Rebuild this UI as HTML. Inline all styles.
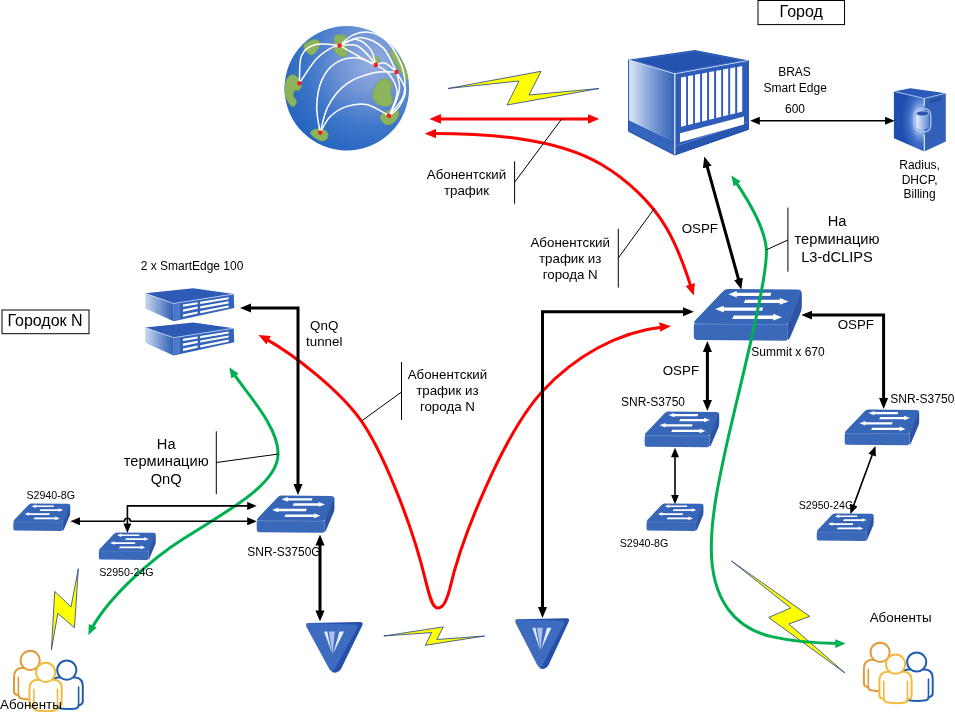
<!DOCTYPE html>
<html>
<head>
<meta charset="utf-8">
<title>Network diagram</title>
<style>
html,body{margin:0;padding:0;background:#fff;}
body{width:955px;height:712px;overflow:hidden;font-family:"Liberation Sans",sans-serif;}
svg{display:block;}
text{font-family:"Liberation Sans",sans-serif;fill:#000;}
.s8{font-size:10.67px;}
.s9{font-size:12px;}
.s10{font-size:13.33px;}
.s11{font-size:14.67px;}
.s12{font-size:16px;}
.mid{text-anchor:middle;}
</style>
</head>
<body>
<svg width="955" height="712" viewBox="0 0 955 712">
<defs>
  <!-- gradients -->
  <radialGradient id="gGlobe" cx="0.70" cy="0.30" r="0.80">
    <stop offset="0" stop-color="#98b0e0"/>
    <stop offset="0.3" stop-color="#7396d6"/>
    <stop offset="0.65" stop-color="#3d76c9"/>
    <stop offset="1" stop-color="#2263be"/>
  </radialGradient>
  <linearGradient id="gSide" x1="0" y1="0" x2="1" y2="0">
    <stop offset="0" stop-color="#dfe8f6"/>
    <stop offset="0.5" stop-color="#7f9fd6"/>
    <stop offset="1" stop-color="#2f5fb6"/>
  </linearGradient>
  <linearGradient id="gSrvSide" x1="0" y1="0" x2="1" y2="0">
    <stop offset="0" stop-color="#c9d8f0"/>
    <stop offset="1" stop-color="#2d5cb3"/>
  </linearGradient>
  <radialGradient id="gDb" cx="0.88" cy="0.48" r="0.62">
    <stop offset="0" stop-color="#e2ecfd"/>
    <stop offset="0.28" stop-color="#9dbaee"/>
    <stop offset="0.62" stop-color="#3d6dc6"/>
    <stop offset="1" stop-color="#1f4fae"/>
  </radialGradient>
  <linearGradient id="gCyl" x1="0" y1="0" x2="1" y2="0">
    <stop offset="0" stop-color="#e8f0ff"/>
    <stop offset="1" stop-color="#5b86d4"/>
  </linearGradient>

  <!-- switch symbol: 110 x 54 box -->
  <g id="sw">
    <path d="M3,36 L95,36.5 L95,50 Q95,52.5 92,52.5 L5,52 Q1,52 1,48 L1,39 Q1,36 3,36 Z" fill="#3b69ba"/>
    <path d="M95,36.5 L107,6 Q109,3 109,8 L109,19 Q109,23 107.5,26 L97,50 Q95,53.5 95,50 Z" fill="#2b54a4"/>
    <path d="M35,2.7 L104.5,3.2 Q110,3.2 107.5,8 L97,33.5 Q95.5,36.8 91,36.8 L4,36.3 Q-1,36.3 3,32.3 L29.5,5.5 Q32,2.7 35,2.7 Z" fill="#3766b8"/>
    <path d="M2,36.6 L94,37" stroke="#5d86cc" stroke-width="0.9" fill="none"/>
    <!-- arrows on top -->
    <g fill="#fff">
      <path d="M35.5,7.7 L44,4.6 L44,6.2 L78.5,6.2 L77.5,9.3 L44,9.3 L44,10.8 Z"/>
      <path d="M95.7,14.6 L87,11.4 L87,13 L52.5,13 L51,16.2 L87,16.2 L87,17.8 Z"/>
      <path d="M22.4,22 L31,18.8 L31,20.4 L70.5,20.4 L69.3,23.6 L31,23.6 L31,25.2 Z"/>
      <path d="M89.2,29.8 L80.5,26.5 L80.5,28.1 L41,28.1 L39.4,31.5 L80.5,31.5 L80.5,33.1 Z"/>
    </g>
  </g>

  <!-- triangle symbol: 56 x 52 -->
  <g id="tri">
    <path d="M3,2 L55,1 Q59,1 57,5 L36,48 Q31.5,53.5 27,51 Z" fill="#254fa8"/>
    <path d="M3,2 L50,3.5 Q53.5,4 52,7.5 L30,47.5 Q27,52.5 24,47.5 L1.5,6 Q0,2 3,2 Z" fill="#3c6bbf"/>
    <path d="M19,10.4 L22.2,10.4 L27.1,32.4 Z" fill="#e4ecfb"/>
    <path d="M23.7,10.4 L29.9,10.4 L27.6,32.9 Z" fill="#a9c2ee"/>
    <path d="M34.4,10.4 L39.1,10.4 L28.2,32.4 Z" fill="#e4ecfb"/>
  </g>

  <g id="person">
    <path d="M-9,7.5 Q-16.2,8.5 -16.2,16.5 L-16.2,31 Q-16.2,33.8 -13.5,34.4 L-11.8,34.8 Q-11.6,37.4 -9,38 Q0,39.8 9,38.3 Q11.8,37.8 11.8,35.2 L13.6,34.7 Q16,34 16,31 L16,16.5 Q16,8.5 9,7.5 Z"/>
    <path d="M-11.8,34.8 L-11.8,17 M11.8,35.2 L11.8,17" fill="none" stroke-width="1.6"/>
    <circle cx="0" cy="0" r="9.6"/>
  </g>
  <!-- arrowheads -->
  <marker id="aR" viewBox="0 0 12 10" markerWidth="11.5" markerHeight="10" refX="11" refY="5" orient="auto-start-reverse" markerUnits="userSpaceOnUse">
    <path d="M0,0 L12,5 L0,10 Z" fill="#ff0000"/>
  </marker>
  <marker id="aK" viewBox="0 0 12 10" markerWidth="11" markerHeight="10" refX="11" refY="5" orient="auto-start-reverse" markerUnits="userSpaceOnUse">
    <path d="M0,0 L12,5 L0,10 Z" fill="#000"/>
  </marker>
  <marker id="aKs" viewBox="0 0 12 10" markerWidth="10" markerHeight="8" refX="11" refY="5" orient="auto-start-reverse" markerUnits="userSpaceOnUse">
    <path d="M0,0 L12,5 L0,10 Z" fill="#000"/>
  </marker>
  <marker id="aG" viewBox="0 0 12 10" markerWidth="10.5" markerHeight="10" refX="11" refY="5" orient="auto-start-reverse" markerUnits="userSpaceOnUse">
    <path d="M0,0 L12,5 L0,10 Z" fill="#00b050"/>
  </marker>
</defs>

<rect x="0" y="0" width="955" height="712" fill="#ffffff"/>

<!--ICONS-->
<!-- Globe -->
<g id="globe">
  <circle cx="346.8" cy="88.3" r="62.3" fill="url(#gGlobe)"/>
  <clipPath id="cg"><circle cx="346.8" cy="88.3" r="62.3"/></clipPath>
  <g clip-path="url(#cg)" fill="#8bb45c" stroke="#7aa654" stroke-width="0.8" stroke-linejoin="round">
    <path d="M304.6,49.6 Q301.5,45.5 307.6,42.0 Q313.7,38.4 317.2,40.0 Q320.8,41.5 319.8,44.5 Q318.8,47.6 316.2,51.7 Q313.7,55.7 310.6,54.7 Q307.6,53.7 304.6,49.6 Z"/>
    <path d="M334.5,38.5 Q334.0,35.4 338.1,34.8 Q342.2,34.3 344.8,35.8 Q347.3,37.4 346.2,40.5 Q345.2,43.5 346.8,46.5 Q348.3,49.6 347.2,53.7 Q346.2,57.7 342.1,56.7 Q338.1,55.7 335.6,52.7 Q333.0,49.6 334.0,45.5 Q335.0,41.5 334.5,38.5 Z"/>
    <path d="M285.1,84.2 Q287.2,76.1 291.3,75.0 Q295.4,74.0 298.9,79.1 Q302.5,84.2 300.9,87.8 Q299.4,91.3 296.9,90.3 Q294.3,89.3 293.3,92.8 Q292.3,96.4 294.9,98.5 Q297.4,100.5 295.9,104.0 Q294.3,107.6 291.8,106.1 Q289.2,104.6 286.1,98.4 Q283.0,92.3 285.1,84.2 Z"/>
    <path d="M375.8,85.2 Q376.8,82.2 381.4,79.7 Q385.9,77.1 389.5,80.7 Q393.1,84.2 391.1,88.2 Q389.0,92.3 391.6,96.4 Q394.1,100.5 391.1,104.0 Q388.0,107.6 382.4,106.1 Q376.8,104.6 374.2,100.5 Q371.7,96.4 373.2,92.3 Q374.7,88.3 375.8,85.2 Z"/>
    <path d="M381.9,121.3 Q378.8,116.8 382.4,113.8 Q385.9,110.7 391.5,109.7 Q397.1,108.6 398.6,111.7 Q400.2,114.7 396.6,119.3 Q393.1,123.9 389.0,124.9 Q384.9,125.9 381.9,121.3 Z"/>
    <path d="M311.6,135.1 Q308.6,132.0 313.1,130.0 Q317.7,128.0 322.8,129.5 Q327.9,131.0 328.1,134.6 Q328.3,138.1 325.6,140.1 Q322.8,142.2 318.8,140.1 Q314.7,138.1 311.6,135.1 Z"/>
    <path d="M391.0,53.2 Q390.0,47.6 393.6,50.2 Q397.1,52.7 401.2,59.3 Q405.3,65.9 407.4,74.0 Q409.5,82.0 406.4,79.0 Q403.2,76.1 400.1,71.0 Q397.1,65.9 394.6,62.4 Q392.0,58.8 391.0,53.2 Z"/>
    <path d="M374.8,60.8 Q373.7,55.7 376.2,56.2 Q378.8,56.7 379.8,59.8 Q380.8,62.8 378.3,64.3 Q375.8,65.9 374.8,60.8 Z"/>
  </g>
  <g fill="none" stroke="#ffffff" stroke-width="1.5" stroke-linecap="round">
    <path d="M299.4,83.2 C299.8,78.6 298.8,62.2 301.5,55.7 C304.2,49.2 309.3,46.2 315.7,44.5 C322.1,42.8 335.7,45.3 339.7,45.5"/>
    <path d="M299.4,83.2 C302.1,79.3 310.6,65.6 315.7,59.8 C320.8,54.0 326.0,51.0 330.0,48.6 C334.0,46.2 338.1,46.0 339.7,45.5"/>
    <path d="M339.7,45.5 C342.5,44.5 351.2,38.7 356.4,39.4 C361.6,40.1 367.5,45.4 370.7,49.6 C373.9,53.9 374.9,62.4 375.8,64.9"/>
    <path d="M339.7,45.5 C342.5,45.5 351.6,43.8 356.4,45.5 C361.2,47.2 365.4,52.5 368.6,55.7 C371.8,58.9 374.6,63.4 375.8,64.9"/>
    <path d="M339.7,45.5 C341.8,46.7 347.8,50.2 352.3,52.7 C356.8,55.2 362.7,58.8 366.6,60.8 C370.5,62.8 374.3,64.2 375.8,64.9"/>
    <path d="M339.7,45.5 C341.8,43.8 347.5,37.6 352.3,35.4 C357.1,33.2 363.2,31.6 368.6,32.3 C374.0,33.0 380.1,35.5 384.9,39.4 C389.6,43.3 393.9,49.6 397.1,55.7 C400.3,61.8 403.3,69.3 404.3,76.1 C405.3,82.9 405.8,89.8 403.2,96.4 C400.6,103.0 391.4,112.6 389.0,115.8"/>
    <path d="M339.7,45.5 C343.2,44.1 353.3,37.0 360.5,37.4 C367.7,37.8 376.9,41.8 382.9,47.6 C388.9,53.4 394.2,67.9 396.5,72.0"/>
    <path d="M375.8,64.9 C377.3,64.6 381.6,61.8 385.0,63.0 C388.4,64.2 394.6,70.5 396.5,72.0"/>
    <path d="M375.8,64.9 C378.0,66.4 385.4,69.4 389.0,74.0 C392.6,78.6 397.1,85.3 397.1,92.3 C397.1,99.3 390.4,111.9 389.0,115.8"/>
    <path d="M396.5,72.0 C398.0,75.0 404.9,84.5 405.3,90.3 C405.8,96.1 401.9,102.3 399.2,106.6 C396.5,110.8 390.7,114.3 389.0,115.8"/>
    <path d="M396.5,72.0 C397.0,74.7 399.8,82.7 399.5,88.0 C399.2,93.3 396.8,99.4 395.0,104.0 C393.2,108.6 390.0,113.8 389.0,115.8"/>
    <path d="M320.2,132.6 C319.6,128.3 316.4,115.3 316.7,106.6 C317.0,97.8 318.6,87.4 321.8,80.1 C325.0,72.8 330.2,66.5 336.0,62.8 C341.8,59.1 349.8,57.4 356.4,57.7 C363.0,58.1 372.6,63.7 375.8,64.9"/>
    <path d="M320.2,132.6 C321.5,128.3 323.6,114.7 327.9,106.6 C332.2,98.5 338.7,89.8 346.2,84.2 C353.7,78.6 364.3,75.0 372.7,73.0 C381.1,71.0 392.5,72.2 396.5,72.0"/>
    <path d="M320.2,132.6 C321.8,130.0 325.7,121.1 330.0,116.8 C334.3,112.5 340.1,108.6 346.2,106.6 C352.3,104.6 359.5,103.1 366.6,104.6 C373.7,106.1 385.3,113.9 389.0,115.8"/>
  </g>
  <g fill="#ee2222">
    <circle cx="339.7" cy="45.5" r="2.3"/>
    <circle cx="375.8" cy="64.9" r="2.3"/>
    <circle cx="396.5" cy="72.0" r="2.3"/>
    <circle cx="299.4" cy="83.2" r="2.3"/>
    <circle cx="389.0" cy="115.8" r="2.3"/>
    <circle cx="320.2" cy="132.6" r="2.3"/>
  </g>
</g>

<!-- BRAS chassis -->
<g id="bras">
  <!-- top -->
  <path d="M628.2,59.7 L694.8,50 L748.7,60.4 L674.8,73.8 Z" fill="#2353ae"/>
  <path d="M634,60.2 L694.5,51.6 L742,60.6 L675,72.4 Z" fill="none" stroke="#3f6fc4" stroke-width="0.7"/>
  <!-- left face -->
  <path d="M628.2,59.7 L674.8,73.8 L674.8,155 L628.2,131.3 Z" fill="url(#gSide)"/>
  <path d="M628.2,120.5 L674.8,143.5 L674.8,155 L628.2,131.3 Z" fill="#3565bd"/>
  <path d="M628.2,120.5 L674.8,143.5" stroke="#2453ae" stroke-width="0.8" fill="none"/>
  <!-- front face -->
  <path d="M674.8,73.8 L748.7,60.4 L748.7,129.4 L674.8,155 Z" fill="#2d5db8"/>
  <path d="M674.8,146.8 L748.7,122 L748.7,129.4 L674.8,155 Z" fill="#2756b0"/>
  <path d="M675.5,146.4 L748.7,121.8" stroke="#5a86d4" stroke-width="0.8" fill="none"/>
  <path d="M674.8,73.8 L674.8,155" stroke="#e8f0ff" stroke-width="1.2"/>
  <path d="M628.2,59.7 L674.8,73.8 L748.7,60.4" fill="none" stroke="#dbe6fa" stroke-width="0.8"/>
  <path d="M628.6,59.7 L628.6,131.3 L674.8,155 L748.3,129.4 L748.3,60.4" fill="none" stroke="#2252ad" stroke-width="1"/>
  <!-- slots -->
  <g fill="#ffffff"><path d="M681.0,77.4 L686.1,76.5 L686.1,125.5 L681.0,126.7 Z"/><path d="M688.0,76.1 L693.1,75.2 L693.1,123.7 L688.0,125.0 Z"/><path d="M695.0,74.8 L700.1,73.8 L700.1,122.0 L695.0,123.3 Z"/><path d="M702.1,73.5 L707.1,72.5 L707.1,120.3 L702.1,121.5 Z"/><path d="M709.1,72.1 L714.1,71.2 L714.1,118.6 L709.1,119.8 Z"/><path d="M716.1,70.8 L721.2,69.9 L721.2,116.8 L716.1,118.1 Z"/><path d="M723.1,69.5 L728.2,68.6 L728.2,115.1 L723.1,116.3 Z"/><path d="M730.2,68.2 L735.2,67.2 L735.2,113.4 L730.2,114.6 Z"/><path d="M737.2,66.9 L742.2,65.9 L742.2,111.6 L737.2,112.9 Z"/></g>
  <!-- strip -->
  <path d="M680,133.3 L744,116.6 L744,124.6 L680,142.2 Z" fill="#ffffff"/>
</g>

<!-- DB server -->
<g id="db">
  <path d="M893.9,91.4 L910.4,88.3 L945.8,93.3 L924.3,98.4 Z" fill="#2a5ab8"/>
  <path d="M893.9,91.4 L924.3,98.4 L924.3,151.5 L893.9,138.3 Z" fill="url(#gDb)"/>
  <path d="M924.3,98.4 L945.8,93.3 L945.8,141.4 L924.3,151.5 Z" fill="#3060b8"/>
  <path d="M924.3,98.4 L924.3,106 M924.3,134 L924.3,151.5" stroke="#dce8fc" stroke-width="1.2"/>
  <path d="M893.9,91.4 L924.3,98.4 L945.8,93.3" fill="none" stroke="#b8cdf2" stroke-width="0.8"/>
  <path d="M930,99.5 L942,96.8 L942,100.3 L930,103 Z" fill="#26509f"/>
  <rect x="914.3" y="108.5" width="16.4" height="23.5" rx="6.5" fill="none" stroke="#aac4f2" stroke-width="1.6" opacity="0.9"/>
  <path d="M916.3,113.5 L916.3,127 A6.3,2.6 0 0 0 928.9,127 L928.9,113.5 Z" fill="url(#gCyl)"/>
  <ellipse cx="922.6" cy="113.5" rx="6.3" ry="2.6" fill="#2c55a8" stroke="#c8d9f8" stroke-width="0.7"/>
</g>

<!-- rack servers -->
<g id="srv1">
  <path d="M145.2,293.3 L193.2,288.3 L233.7,294 L173.6,303.5 Z" fill="#2c5ab4"/>
  <path d="M145.2,293.3 L173.6,303.5 L173.6,321.2 L145.2,308.5 Z" fill="url(#gSrvSide)"/>
  <path d="M173.6,303.5 L233.7,294 L234.3,308 L173.6,321.2 Z" fill="#3463bb"/>
  <path d="M145.2,293.3 L173.6,303.5 L233.7,294" fill="none" stroke="#c5d6f4" stroke-width="0.8"/>
  <path d="M174.5,304.5 L180,303.6 L180,319 L174.5,320.4 Z" fill="#4f7acb"/>
  <g fill="#ffffff">
    <path d="M183,304.6 L197.6,302.2 L197.6,304.2 L183,306.8 Z"/>
    <path d="M183,309.4 L197.6,306.6 L197.6,308.8 L183,311.8 Z"/>
    <path d="M183,314.4 L197.6,311.4 L197.6,313.6 L183,316.8 Z"/>
    <path d="M200.2,301.8 L228.6,297.2 L228.6,299.2 L200.2,304 Z"/>
    <path d="M200.2,306.2 L228.6,301.2 L228.6,303.4 L200.2,308.4 Z"/>
    <path d="M200.2,311 L228.6,305.4 L228.6,307.6 L200.2,313.2 Z"/>
  </g>
</g>
<use href="#srv1" transform="translate(0,34.2)"/>

<!-- switches -->
<use href="#sw" transform="translate(692.8,286.3) scale(1,1.035)"/>
<use href="#sw" transform="translate(644,409.6) scale(0.69,0.715)"/>
<use href="#sw" transform="translate(844,407.6) scale(0.69,0.715)"/>
<use href="#sw" transform="translate(646,502) scale(0.527,0.55)"/>
<use href="#sw" transform="translate(816.2,512) scale(0.527,0.55)"/>
<use href="#sw" transform="translate(12.8,502) scale(0.527,0.55)"/>
<use href="#sw" transform="translate(98.3,531) scale(0.527,0.55)"/>
<use href="#sw" transform="translate(256,493.6) scale(0.72,0.745)"/>

<!-- triangles -->
<use href="#tri" transform="translate(305,621)"/>
<use href="#tri" transform="translate(514.3,617.3) scale(0.95,1)"/>

<!--/ICONS-->
<!--LINES-->
<!-- lightning bolts -->
<g fill="#ffff00" stroke="#1f3f8a" stroke-width="0.8" stroke-linejoin="miter">
  <path d="M448,88.5 L541,71.3 L529,95 L599,88.5 L507,105 L519,81 Z"/>
  <path d="M78.3,568.7 L71,606.8 L54.7,591.4 L51.4,649.8 L57.8,613.4 L74.5,627.8 Z"/>
  <path d="M383.8,636 L443.3,626.9 L436.8,639.5 L484.5,636 L425.3,645.3 L431.7,632.6 Z"/>
  <path d="M731.5,561 L809.8,616.4 L788.8,624 L844.9,672.9 L768.6,617.5 L790.7,608 Z"/>
</g>

<!-- people icons -->
<g id="ppl" fill="#ffffff" stroke-width="2" stroke-linejoin="round" stroke-linecap="round">
  <g stroke="#e29a3c" transform="translate(880.1,652.3)"><use href="#person"/></g>
  <g stroke="#1f5fae" transform="translate(916.7,662)"><use href="#person"/></g>
  <g stroke="#f0bb3c" transform="translate(895.6,664.2)"><use href="#person"/></g>
</g>
<use href="#ppl" transform="translate(-849.9,8.1)"/>

<!-- red arrows -->
<g fill="none" stroke="#ff0000" stroke-width="3">
  <path d="M430.4,118.9 L598.5,118.9" stroke-dasharray="0 6.0 156.1 11.0" marker-start="url(#aR)" marker-end="url(#aR)"/>
  <path d="M425.7,133.6 C485,133.6 553.6,136.4 601.1,164.2 C627,179.4 651.9,202.7 666.9,228.7 C678.4,248.6 686.6,272.5 693.4,294.5" stroke-dasharray="0 6.0 332.2 11.0" marker-start="url(#aR)" marker-end="url(#aR)"/>
  <path d="M259.3,335.4 C292,352 340,391 360.4,419.7 C381,448.5 411,520 425.5,580.1 C429,594 432,608 437.5,608 C443,608 446,602 449.5,589.8 C462,535 505,432 542.5,391.3 C575,356 620,330 670.2,326.3" stroke-dasharray="0 6.0 716.6 11.0" marker-start="url(#aR)" marker-end="url(#aR)"/>
</g>

<!-- green arrows -->
<g fill="none" stroke="#00b050" stroke-width="3">
  <path d="M731.8,176.1 C747,198 766.4,228 766.4,252 C766.4,285 740,385 727.7,440 C719,479 711.3,515 711.3,548 C711.3,600 735,628 771.6,636.6 C795,642 820,643.5 844.9,643.5" stroke-dasharray="0 6.0 564.9 11.0" marker-start="url(#aG)" marker-end="url(#aG)"/>
  <path d="M229.8,368.1 C245,392 278.1,425 278.1,453.7 C278.1,485 225,512 183.4,538.8 C150,560 105,600 88.7,634.4" stroke-dasharray="0 6.0 355.0 11.0" marker-start="url(#aG)" marker-end="url(#aG)"/>
</g>

<!-- thick black arrows -->
<g fill="none" stroke="#000000" stroke-width="3" stroke-linejoin="miter">
  <path d="M704.6,157.4 L741.1,288.5" stroke-dasharray="0 6.0 124.1 11.0" marker-start="url(#aK)" marker-end="url(#aK)"/>
  <path d="M542.5,617 L542.5,311.7 L693,311.7" stroke-dasharray="0 6.0 443.8 11.0" marker-start="url(#aK)" marker-end="url(#aK)"/>
  <path d="M802.2,315.1 L883.6,315.1 L883.6,408" stroke-dasharray="0 6.0 162.3 11.0" marker-start="url(#aK)" marker-end="url(#aK)"/>
  <path d="M707.4,342 L707.4,410" stroke-dasharray="0 6.0 56.0 11.0" marker-start="url(#aK)" marker-end="url(#aK)"/>
  <path d="M241,308 L298,308 L298,494" stroke-dasharray="0 6.0 231.0 11.0" marker-start="url(#aK)" marker-end="url(#aK)"/>
  <path d="M320,535.5 L320,620.5" stroke-dasharray="0 6.0 73.0 11.0" marker-start="url(#aK)" marker-end="url(#aK)"/>
</g>

<!-- thin black arrows -->
<g fill="none" stroke="#000000" stroke-width="1.6">
  <path d="M751,120.7 L893.8,120.7" stroke-dasharray="0 4.5 133.8 9.5" marker-start="url(#aKs)" marker-end="url(#aKs)"/>
  <path d="M675,448.5 L675,503.5" stroke-dasharray="0 4.5 46.0 9.5" marker-start="url(#aKs)" marker-end="url(#aKs)"/>
  <path d="M875.2,446.8 L850.7,513.3" stroke-dasharray="0 4.5 61.9 9.5" marker-start="url(#aKs)" marker-end="url(#aKs)"/>
  <path d="M71.2,521.3 L124.4,521.3 A3,3 0 0 1 130.4,521.3 L256,521.3" stroke-dasharray="0 4.5 179.2 9.5" marker-start="url(#aKs)" marker-end="url(#aKs)"/>
  <path d="M127.4,532.2 L127.4,505.9 L256,505.9" stroke-dasharray="0 4.5 145.9 9.5" marker-start="url(#aKs)" marker-end="url(#aKs)"/>
</g>

<!-- callout lines -->
<g fill="none" stroke="#000000" stroke-width="1">
  <path d="M514.6,161.3 L514.6,203.7 M514.6,182.3 L561.7,118.9"/>
  <path d="M618.3,228.8 L618.3,287.6 M618.3,258 L654.4,208.4"/>
  <path d="M787.9,207.6 L787.9,271.7 M787.9,240 L766.4,249.8"/>
  <path d="M401.5,362 L401.5,420 M401.5,392 L361.5,421"/>
  <path d="M216.3,431.3 L216.3,494.1 M216.3,462.5 L277.9,454.1"/>
</g>

<!-- label boxes -->
<g fill="#ffffff" stroke="#000000" stroke-width="1">
  <rect x="758" y="0.5" width="86.5" height="24.1"/>
  <rect x="2" y="310" width="87" height="23.7"/>
</g>

<!--/LINES-->
<!--TEXT-->
<g style="filter:grayscale(1)">
<text x="801.2" y="17.2" class="s12 mid">Город</text>
<text x="45" y="326.2" class="s12 mid">Городок N</text>

<text x="794.5" y="75.8" class="s9 mid">BRAS</text>
<text x="795.2" y="92.2" class="s9 mid">Smart Edge</text>
<text x="795" y="113.2" class="s9 mid">600</text>

<text x="919.6" y="169.2" class="s9 mid">Radius,</text>
<text x="919.6" y="183.6" class="s9 mid">DHCP,</text>
<text x="919.6" y="198" class="s9 mid">Billing</text>

<text x="466.5" y="179.2" class="s10 mid">Абонентский</text>
<text x="466.5" y="195.2" class="s10 mid">трафик</text>

<text x="570.2" y="246.7" class="s10 mid">Абонентский</text>
<text x="570.2" y="262.7" class="s10 mid">трафик из</text>
<text x="570.2" y="278.7" class="s10 mid">города N</text>

<text x="447.4" y="378.7" class="s10 mid">Абонентский</text>
<text x="447.4" y="394.7" class="s10 mid">трафик из</text>
<text x="447.4" y="410.7" class="s10 mid">города N</text>

<text x="699.8" y="233" class="s10 mid">OSPF</text>
<text x="855.8" y="329" class="s10 mid">OSPF</text>
<text x="680.9" y="375.4" class="s10 mid">OSPF</text>

<text x="837" y="226.3" class="s11 mid">На</text>
<text x="837" y="243.9" class="s11 mid">терминацию</text>
<text x="837" y="261.5" class="s11 mid">L3-dCLIPS</text>

<text x="166.2" y="448.7" class="s11 mid">На</text>
<text x="166.2" y="466.3" class="s11 mid">терминацию</text>
<text x="166.2" y="483.9" class="s11 mid">QnQ</text>

<text x="788" y="356.2" class="s9 mid">Summit x 670</text>
<text x="653" y="406.3" class="s9 mid">SNR-S3750</text>
<text x="922.3" y="402.8" class="s9 mid">SNR-S3750</text>
<text x="644" y="547" class="s8 mid">S2940-8G</text>
<text x="826" y="508.7" class="s8 mid">S2950-24G</text>

<text x="192" y="269.9" class="s9 mid">2 x SmartEdge 100</text>
<text x="324.2" y="330.2" class="s10 mid">QnQ</text>
<text x="324.2" y="346.2" class="s10 mid">tunnel</text>

<text x="50.7" y="498.7" class="s8 mid">S2940-8G</text>
<text x="126.4" y="575.8" class="s8 mid">S2950-24G</text>
<text x="284" y="555.9" class="s9 mid">SNR-S3750G</text>

<text x="900.6" y="622.3" class="s10 mid">Абоненты</text>
<text x="30.9" y="709.2" class="s10 mid">Абоненты</text>

</g>
<!--/TEXT-->

</svg>
</body>
</html>
